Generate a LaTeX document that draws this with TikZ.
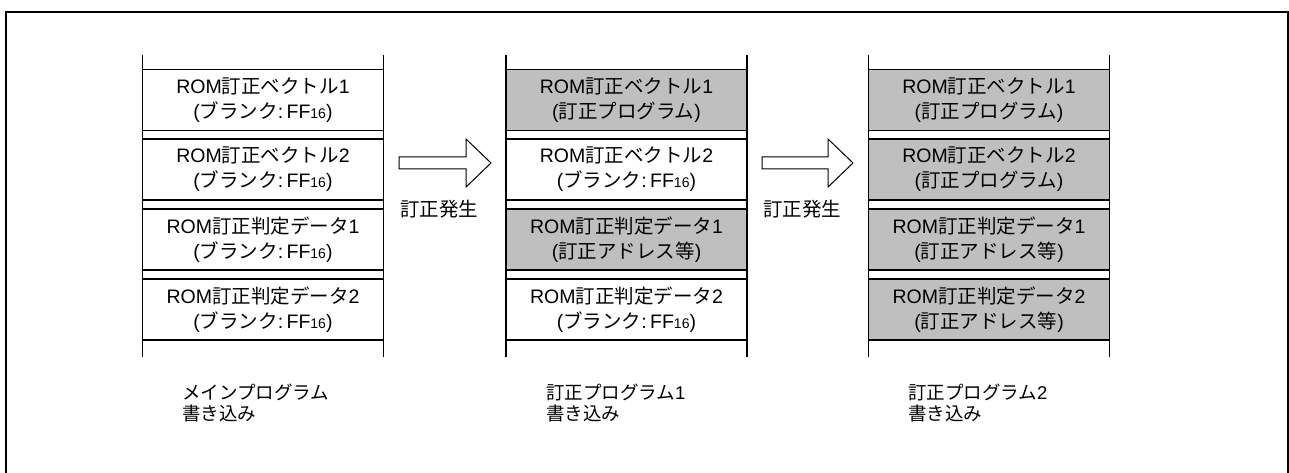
\documentclass[tikz,border=0pt]{standalone}
\usepackage{fontspec}
\setmainfont{Liberation Sans}
\newfontfamily\jp{Noto Sans CJK JP}
\newcommand{\sixteen}{{\fontsize{14}{14}\selectfont 16}}
\begin{document}
\begin{tikzpicture}[x=1pt,y=-1pt,
  blk/.style={draw, line width=1.2pt, minimum width=241pt, minimum height=61pt,
    inner sep=0pt, align=center, font=\fontsize{19.5}{25}\selectfont},
  used/.style={blk, fill=gray!50},
  free/.style={blk, fill=white},
  wall/.style={line width=1.2pt},
  bigarrow/.style={draw, line width=1pt, fill=white},
  lbl/.style={anchor=west, align=left, inner sep=0pt, font=\fontsize{18.5}{21}\selectfont\jp},
  evt/.style={inner sep=0pt, font=\fontsize{19.5}{20}\selectfont\jp}]
\useasboundingbox (0,0) rectangle (1289,473);
\clip (0,0) rectangle (1289,473);
\draw[line width=2pt] (6,12) rectangle (1287.5,520);

\foreach \cx/\n in {263/a,626.5/b,989/c}{
  \coordinate (\n tl) at (\cx-120.5,55);
  \coordinate (\n bl) at (\cx-120.5,357);
  \coordinate (\n tr) at (\cx+120.5,55);
  \coordinate (\n br) at (\cx+120.5,357);
  \draw[wall] (\n tl) -- (\n bl);
  \draw[wall] (\n tr) -- (\n br);
}

\node[free] (a1) at (263,100)   {ROM{\jp 訂正ベクトル}1\\({\jp ブランク}:\,FF\sixteen)};
\node[free] (a2) at (263,169.5) {ROM{\jp 訂正ベクトル}2\\({\jp ブランク}:\,FF\sixteen)};
\node[free] (a3) at (263,239.5) {ROM{\jp 訂正判定データ}1\\({\jp ブランク}:\,FF\sixteen)};
\node[free] (a4) at (263,309.5) {ROM{\jp 訂正判定データ}2\\({\jp ブランク}:\,FF\sixteen)};

\node[used] (b1) at (626.5,100)   {ROM{\jp 訂正ベクトル}1\\({\jp 訂正プログラム})};
\node[free] (b2) at (626.5,169.5) {ROM{\jp 訂正ベクトル}2\\({\jp ブランク}:\,FF\sixteen)};
\node[used] (b3) at (626.5,239.5) {ROM{\jp 訂正判定データ}1\\({\jp 訂正アドレス等})};
\node[free] (b4) at (626.5,309.5) {ROM{\jp 訂正判定データ}2\\({\jp ブランク}:\,FF\sixteen)};

\node[used] (c1) at (989,100)   {ROM{\jp 訂正ベクトル}1\\({\jp 訂正プログラム})};
\node[used] (c2) at (989,169.5) {ROM{\jp 訂正ベクトル}2\\({\jp 訂正プログラム})};
\node[used] (c3) at (989,239.5) {ROM{\jp 訂正判定データ}1\\({\jp 訂正アドレス等})};
\node[used] (c4) at (989,309.5) {ROM{\jp 訂正判定データ}2\\({\jp 訂正アドレス等})};

\draw[bigarrow] (399,157) -- (466,157) -- (466,139) -- (491,163) -- (466,187) -- (466,169) -- (399,169) -- cycle;
\draw[bigarrow] (762,157) -- (828,157) -- (828,139) -- (853,163) -- (828,187) -- (828,169) -- (762,169) -- cycle;
\node[evt, anchor=west] (e1) at (400,209) {訂正発生};
\node[evt, anchor=west] (e2) at (763,209) {訂正発生};

\node[lbl] (l1) at (182,403) {メインプログラム\\書き込み};
\node[lbl] (l2) at (546,403) {訂正プログラム{\fontspec{Liberation Sans}1}\\書き込み};
\node[lbl] (l3) at (908,403) {訂正プログラム{\fontspec{Liberation Sans}2}\\書き込み};
\end{tikzpicture}
\end{document}
